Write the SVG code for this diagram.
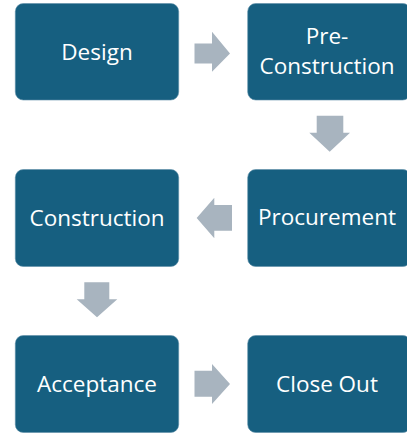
<svg xmlns="http://www.w3.org/2000/svg" width="407" height="433" viewBox="0 0 407 433">
<style>
.box{fill:#165F80;stroke:#5E8FA8;stroke-width:0.6}
.lbl{font-family:"Open Sans","Liberation Sans",sans-serif;font-size:22.5px;fill:#FFFFFF;text-anchor:middle}
.arr{fill:#A8B4BF}
</style>
<rect width="407" height="433" fill="#FFFFFF"/>
<g id="connectors">
<polygon class="arr" points="194.5,43.5 212,43.5 212,31.7 230,53.5 212,71.7 212,63.5 194.5,63.5"/>
<polygon class="arr" points="316.7,115.7 343.3,115.7 343.3,132.7 350,132.7 329.7,151.7 309.3,132.7 316.7,132.7"/>
<polygon class="arr" points="232,205 214.3,205 214.3,197.7 196.7,218 214.3,238.3 214.3,230.7 232,230.7"/>
<polygon class="arr" points="84.3,282.3 109.3,282.3 109.3,299.3 117.3,299.3 97,317.3 76.7,299.3 84.3,299.3"/>
<polygon class="arr" points="194.5,370.7 212,370.7 212,364 230,384 212,404 212,396.7 194.5,396.7"/>
</g>
<g id="design"><rect class="box" x="15.3" y="3.5" width="163.4" height="96.5" rx="8"/><text class="lbl" x="97" y="60">Design</text></g>
<g id="preconstruction"><rect class="box" x="247.7" y="3.5" width="163" height="96.5" rx="8"/><text class="lbl" x="327" y="44"><tspan x="327">Pre-</tspan><tspan x="327" dy="29.5">Construction</tspan></text></g>
<g id="procurement"><rect class="box" x="247.7" y="169.5" width="163" height="97" rx="8"/><text class="lbl" x="327" y="225">Procurement</text></g>
<g id="construction"><rect class="box" x="15.3" y="169.5" width="163.4" height="97" rx="8"/><text class="lbl" x="97" y="226">Construction</text></g>
<g id="acceptance"><rect class="box" x="15.3" y="335.5" width="163.4" height="97" rx="8"/><text class="lbl" x="97" y="391.5">Acceptance</text></g>
<g id="closeout"><rect class="box" x="247.7" y="335.5" width="163" height="97" rx="8"/><text class="lbl" x="327" y="391.5">Close Out</text></g>
</svg>
